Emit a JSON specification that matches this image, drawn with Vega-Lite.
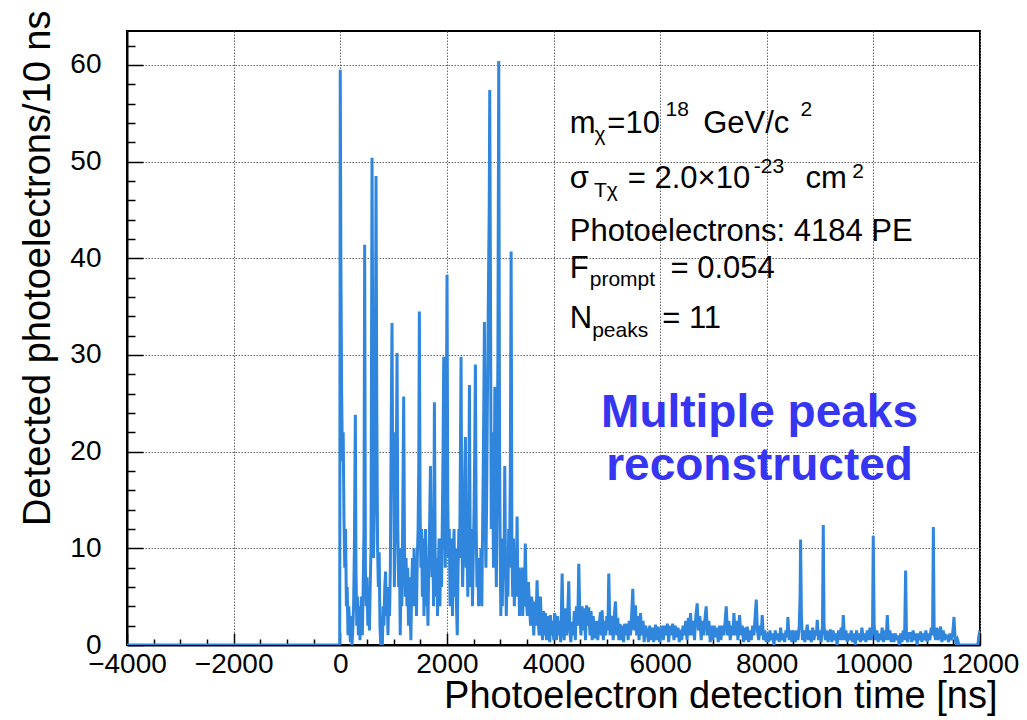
{
  "$schema": "https://vega.github.io/schema/vega-lite/v6.json",
  "width": 853,
  "height": 614,
  "autosize": {"type": "none"},
  "padding": {"left": 127, "top": 31, "right": 47, "bottom": 75},
  "background": "white",
  "config": {
    "view": {"stroke": "#000", "strokeWidth": 2},
    "font": "Liberation Sans",
    "axis": {"labelOverlap": false}
  },
  "resolve": {"axis": {"x": "independent", "y": "independent"}},
  "datasets": {
    "h": [
      {"t":-4000,"v":0},{"t":-10,"v":0},{"t":0,"v":59.5},{"t":12,"v":40},{"t":25,"v":27},{"t":40,"v":19},{"t":55,"v":22},{"t":70,"v":13},{"t":85,"v":8},{"t":100,"v":12},{"t":115,"v":4},{"t":130,"v":6},{"t":145,"v":1},{"t":160,"v":4},{"t":175,"v":2},{"t":190,"v":0.3},{"t":205,"v":3},{"t":220,"v":0},{"t":235,"v":1.5},{"t":250,"v":4},{"t":265,"v":10},{"t":283,"v":23.8},{"t":295,"v":8},{"t":310,"v":2},{"t":325,"v":5},{"t":340,"v":1},{"t":355,"v":4},{"t":370,"v":0.5},{"t":385,"v":3},{"t":400,"v":5},{"t":415,"v":1},{"t":430,"v":6},{"t":445,"v":12},{"t":458,"v":41.4},{"t":472,"v":8},{"t":487,"v":4},{"t":502,"v":7},{"t":517,"v":2},{"t":532,"v":5},{"t":547,"v":1.5},{"t":562,"v":6},{"t":577,"v":10},{"t":596,"v":50.4},{"t":610,"v":30},{"t":625,"v":9},{"t":640,"v":14},{"t":655,"v":20},{"t":671,"v":48.5},{"t":685,"v":25},{"t":700,"v":10},{"t":715,"v":6},{"t":730,"v":9.6},{"t":745,"v":2},{"t":760,"v":0},{"t":775,"v":3},{"t":790,"v":0},{"t":805,"v":4},{"t":820,"v":2},{"t":835,"v":6},{"t":850,"v":7.6},{"t":865,"v":3},{"t":880,"v":6},{"t":895,"v":1},{"t":910,"v":5},{"t":925,"v":3},{"t":940,"v":8},{"t":955,"v":22},{"t":971,"v":33.3},{"t":985,"v":16},{"t":1000,"v":22},{"t":1015,"v":6},{"t":1030,"v":12},{"t":1045,"v":15},{"t":1058,"v":24},{"t":1065,"v":30.2},{"t":1080,"v":12},{"t":1095,"v":6},{"t":1110,"v":10},{"t":1125,"v":1},{"t":1140,"v":7},{"t":1155,"v":4},{"t":1170,"v":12},{"t":1190,"v":25.7},{"t":1205,"v":10},{"t":1220,"v":5},{"t":1235,"v":9},{"t":1250,"v":4},{"t":1265,"v":8},{"t":1280,"v":2},{"t":1295,"v":7},{"t":1310,"v":4},{"t":1325,"v":0.5},{"t":1340,"v":6},{"t":1355,"v":9},{"t":1370,"v":4},{"t":1385,"v":10},{"t":1400,"v":5},{"t":1415,"v":8},{"t":1430,"v":3},{"t":1445,"v":9},{"t":1460,"v":12},{"t":1472,"v":18},{"t":1484,"v":34.5},{"t":1498,"v":14},{"t":1512,"v":8},{"t":1526,"v":12},{"t":1540,"v":5},{"t":1555,"v":11},{"t":1570,"v":3},{"t":1585,"v":9},{"t":1600,"v":12},{"t":1615,"v":4},{"t":1630,"v":7},{"t":1645,"v":2},{"t":1660,"v":8},{"t":1675,"v":12},{"t":1692,"v":18.5},{"t":1705,"v":12},{"t":1720,"v":7},{"t":1735,"v":12},{"t":1750,"v":4},{"t":1766,"v":25.1},{"t":1780,"v":10},{"t":1795,"v":5},{"t":1810,"v":9},{"t":1825,"v":3},{"t":1840,"v":8},{"t":1855,"v":11},{"t":1870,"v":4},{"t":1885,"v":10},{"t":1900,"v":6},{"t":1915,"v":13},{"t":1928,"v":20},{"t":1941,"v":29.8},{"t":1955,"v":15},{"t":1970,"v":8},{"t":1985,"v":18},{"t":2003,"v":38.3},{"t":2017,"v":15},{"t":2030,"v":9},{"t":2045,"v":12},{"t":2060,"v":4},{"t":2075,"v":8},{"t":2090,"v":11},{"t":2105,"v":3},{"t":2120,"v":9},{"t":2135,"v":12},{"t":2150,"v":5},{"t":2165,"v":10},{"t":2180,"v":4},{"t":2195,"v":1},{"t":2210,"v":8},{"t":2225,"v":12},{"t":2240,"v":9},{"t":2254,"v":20},{"t":2266,"v":29.8},{"t":2280,"v":12},{"t":2295,"v":6},{"t":2310,"v":10},{"t":2325,"v":14},{"t":2338,"v":19},{"t":2348,"v":21.5},{"t":2362,"v":8},{"t":2377,"v":12},{"t":2392,"v":5},{"t":2407,"v":10},{"t":2423,"v":26.9},{"t":2437,"v":10},{"t":2452,"v":6},{"t":2467,"v":12},{"t":2480,"v":4},{"t":2495,"v":9},{"t":2510,"v":14},{"t":2522,"v":20},{"t":2535,"v":29},{"t":2550,"v":12},{"t":2565,"v":6},{"t":2580,"v":9},{"t":2595,"v":4},{"t":2610,"v":7},{"t":2625,"v":5},{"t":2640,"v":10},{"t":2655,"v":4},{"t":2670,"v":12},{"t":2685,"v":20},{"t":2704,"v":33.4},{"t":2718,"v":14},{"t":2732,"v":8},{"t":2746,"v":15},{"t":2760,"v":25},{"t":2780,"v":37},{"t":2794,"v":45},{"t":2804,"v":57.4},{"t":2818,"v":37},{"t":2832,"v":12},{"t":2846,"v":22},{"t":2860,"v":18},{"t":2874,"v":8},{"t":2888,"v":14},{"t":2900,"v":26.7},{"t":2914,"v":12},{"t":2928,"v":6},{"t":2942,"v":15},{"t":2957,"v":30},{"t":2973,"v":60.4},{"t":2987,"v":22},{"t":3000,"v":10},{"t":3012,"v":3},{"t":3025,"v":9},{"t":3040,"v":4},{"t":3055,"v":11},{"t":3070,"v":7},{"t":3086,"v":18.5},{"t":3100,"v":8},{"t":3115,"v":3},{"t":3130,"v":9},{"t":3145,"v":5},{"t":3160,"v":12},{"t":3175,"v":8},{"t":3190,"v":18},{"t":3205,"v":40.7},{"t":3220,"v":10},{"t":3235,"v":5},{"t":3250,"v":11},{"t":3265,"v":4},{"t":3280,"v":8},{"t":3295,"v":5},{"t":3308,"v":9},{"t":3317,"v":13.3},{"t":3332,"v":5},{"t":3347,"v":8},{"t":3362,"v":3},{"t":3377,"v":7},{"t":3392,"v":4},{"t":3407,"v":8},{"t":3422,"v":3},{"t":3437,"v":6},{"t":3452,"v":4},{"t":3471,"v":10.5},{"t":3490,"v":5},
      {"t":3510,"v":3},{"t":3530,"v":6.5},{"t":3550,"v":4},{"t":3570,"v":2},{"t":3590,"v":5},{"t":3610,"v":3.5},{"t":3630,"v":1},{"t":3650,"v":4.5},{"t":3670,"v":2},{"t":3692,"v":6.7},{"t":3710,"v":3},{"t":3730,"v":1},{"t":3755,"v":5},{"t":3775,"v":2},{"t":3795,"v":0.5},{"t":3815,"v":3.5},{"t":3835,"v":1},{"t":3849,"v":3.3},{"t":3870,"v":0.5},{"t":3890,"v":3},{"t":3910,"v":1.5},{"t":3930,"v":0.3},{"t":3942,"v":3.1},{"t":3965,"v":1},{"t":3985,"v":2.5},{"t":4005,"v":0.5},{"t":4020,"v":3.3},{"t":4036,"v":2.8},{"t":4055,"v":0.5},{"t":4075,"v":3},{"t":4095,"v":1},{"t":4115,"v":2.5},{"t":4135,"v":0.3},{"t":4150,"v":4},{"t":4162,"v":7.4},{"t":4180,"v":2},{"t":4200,"v":0.5},{"t":4224,"v":3.8},{"t":4245,"v":1},{"t":4265,"v":3},{"t":4286,"v":6.6},{"t":4305,"v":1.5},{"t":4325,"v":0.3},{"t":4349,"v":2.4},{"t":4370,"v":1},{"t":4390,"v":3.5},{"t":4410,"v":0.5},{"t":4430,"v":4},{"t":4455,"v":2},{"t":4474,"v":8.4},{"t":4495,"v":3},{"t":4515,"v":1},{"t":4537,"v":4},{"t":4560,"v":1.5},{"t":4580,"v":3.8},{"t":4600,"v":0.5},{"t":4620,"v":4.1},{"t":4645,"v":2},{"t":4662,"v":3.9},{"t":4685,"v":1},{"t":4705,"v":3.5},{"t":4725,"v":0.5},{"t":4745,"v":3},{"t":4765,"v":1},{"t":4787,"v":0.7},{"t":4810,"v":2.5},{"t":4830,"v":0.5},{"t":4855,"v":2},{"t":4881,"v":3.4},{"t":4900,"v":1},{"t":4912,"v":3.6},{"t":4935,"v":0.5},{"t":4960,"v":2.5},{"t":4980,"v":1},{"t":5000,"v":3},{"t":5020,"v":1.5},{"t":5037,"v":7.4},{"t":5060,"v":1},{"t":5080,"v":3},{"t":5100,"v":2.4},{"t":5120,"v":0.5},{"t":5140,"v":3},{"t":5162,"v":4.5},{"t":5185,"v":1},{"t":5205,"v":2.8},{"t":5225,"v":0.5},{"t":5250,"v":2.2},{"t":5270,"v":0.5},{"t":5290,"v":2},{"t":5315,"v":0.3},{"t":5335,"v":2.2},{"t":5360,"v":1},{"t":5381,"v":2.2},{"t":5400,"v":0.5},{"t":5420,"v":2.5},{"t":5445,"v":1},{"t":5465,"v":3},{"t":5487,"v":5.8},{"t":5510,"v":1.5},{"t":5538,"v":4.1},{"t":5560,"v":1},{"t":5580,"v":3},{"t":5605,"v":0.5},{"t":5632,"v":3.3},{"t":5655,"v":1},{"t":5680,"v":2.5},{"t":5700,"v":0.3},{"t":5725,"v":2},{"t":5757,"v":1.4},{"t":5780,"v":0.3},{"t":5805,"v":2},{"t":5830,"v":0.5},{"t":5855,"v":1.8},{"t":5880,"v":0.3},{"t":5913,"v":2.1},{"t":5940,"v":0.5},{"t":5965,"v":1.9},{"t":5990,"v":0.3},{"t":6007,"v":0.9},{"t":6035,"v":2},{"t":6060,"v":0.5},{"t":6085,"v":2},{"t":6110,"v":1},{"t":6135,"v":2.2},{"t":6160,"v":0.3},{"t":6185,"v":2},{"t":6210,"v":1},{"t":6235,"v":2.2},{"t":6260,"v":0.5},{"t":6285,"v":2},{"t":6310,"v":0.8},{"t":6335,"v":1.8},{"t":6360,"v":0.3},{"t":6382,"v":1.6},{"t":6405,"v":0.5},{"t":6430,"v":2},{"t":6455,"v":1},{"t":6480,"v":2.5},{"t":6505,"v":0.5},{"t":6530,"v":2.8},{"t":6550,"v":1},{"t":6570,"v":3.3},{"t":6595,"v":1},{"t":6620,"v":2.5},{"t":6645,"v":0.5},{"t":6670,"v":3},{"t":6695,"v":4.3},{"t":6720,"v":1.5},{"t":6745,"v":3},{"t":6770,"v":0.5},{"t":6795,"v":2.5},{"t":6820,"v":1},{"t":6845,"v":3},{"t":6864,"v":4},{"t":6890,"v":1},{"t":6915,"v":2.5},{"t":6940,"v":0.3},{"t":6965,"v":2},{"t":6990,"v":0.5},{"t":7015,"v":2},{"t":7040,"v":0.8},{"t":7065,"v":1.8},{"t":7090,"v":0.3},{"t":7115,"v":2},{"t":7140,"v":0.5},{"t":7165,"v":2},{"t":7196,"v":1},{"t":7220,"v":2.5},{"t":7240,"v":4},{"t":7265,"v":1},{"t":7290,"v":2.5},{"t":7315,"v":0.5},{"t":7340,"v":2},{"t":7365,"v":1},{"t":7384,"v":3.3},{"t":7410,"v":1},{"t":7435,"v":2.5},{"t":7460,"v":0.5},{"t":7490,"v":3.1},{"t":7515,"v":1},{"t":7540,"v":2},{"t":7565,"v":0.3},{"t":7590,"v":1.8},{"t":7615,"v":0.5},{"t":7634,"v":1.9},{"t":7660,"v":0.3},{"t":7685,"v":1.5},{"t":7710,"v":0.5},{"t":7735,"v":2},{"t":7760,"v":1},{"t":7780,"v":2.8},{"t":7803,"v":4.7},{"t":7825,"v":1.5},{"t":7850,"v":0.5},{"t":7875,"v":2},{"t":7895,"v":1},{"t":7915,"v":3.1},{"t":7940,"v":0.5},{"t":7965,"v":1.5},{"t":7990,"v":0.3},{"t":8009,"v":1.2},{"t":8035,"v":0.3},{"t":8060,"v":1.5},{"t":8085,"v":0.5},{"t":8110,"v":1.2},{"t":8135,"v":0},{"t":8160,"v":1.5},{"t":8185,"v":0.5},{"t":8210,"v":1.2},{"t":8235,"v":0.3},{"t":8260,"v":1.8},{"t":8285,"v":0.5},{"t":8310,"v":1.2},{"t":8335,"v":0.3},{"t":8360,"v":1.5},{"t":8380,"v":0.8},{"t":8397,"v":2.9},{"t":8420,"v":0.5},{"t":8445,"v":1.5},{"t":8470,"v":0.3},{"t":8490,"v":1.5},{"t":8510,"v":1.2},{"t":8535,"v":0.3},{"t":8560,"v":1.5},{"t":8585,"v":0.5},{"t":8610,"v":2},{"t":8625,"v":5},{"t":8635,"v":10.9},{"t":8650,"v":3},{"t":8670,"v":0.5},{"t":8695,"v":1.5},{"t":8715,"v":0.3},{"t":8740,"v":1.2},{"t":8760,"v":2.1},{"t":8785,"v":0.5},{"t":8810,"v":1.5},{"t":8835,"v":0.3},{"t":8860,"v":1.8},{"t":8885,"v":0.5},{"t":8910,"v":1.5},{"t":8930,"v":1},{"t":8948,"v":2.6},{"t":8970,"v":0.5},{"t":8995,"v":1.5},{"t":9020,"v":0.3},{"t":9045,"v":2},{"t":9060,"v":12.4},{"t":9075,"v":2},{"t":9100,"v":0.5},{"t":9125,"v":1.5},{"t":9150,"v":0.3},{"t":9175,"v":1.2},{"t":9198,"v":1.6},{"t":9220,"v":0.3},{"t":9245,"v":1.5},{"t":9270,"v":0.5},{"t":9295,"v":1.2},{"t":9320,"v":0},{"t":9345,"v":1.5},{"t":9370,"v":0.5},{"t":9395,"v":1.8},{"t":9415,"v":0.5},{"t":9436,"v":3.1},{"t":9460,"v":0.5},{"t":9485,"v":1.5},{"t":9510,"v":0.3},{"t":9535,"v":1.2},{"t":9560,"v":0.5},{"t":9585,"v":1.5},{"t":9610,"v":0.3},{"t":9635,"v":1.2},{"t":9660,"v":0},{"t":9685,"v":1.5},{"t":9710,"v":0.5},{"t":9735,"v":1.2},{"t":9760,"v":0.3},{"t":9785,"v":1.8},{"t":9810,"v":0.5},{"t":9835,"v":1.2},{"t":9860,"v":0.3},{"t":9885,"v":1.5},{"t":9910,"v":0.5},{"t":9935,"v":1.8},{"t":9960,"v":0.5},{"t":9985,"v":2},{"t":9998,"v":11.3},{"t":10015,"v":2},{"t":10040,"v":0.5},{"t":10065,"v":1.5},{"t":10090,"v":0.3},{"t":10115,"v":1.2},{"t":10140,"v":0.5},{"t":10165,"v":1.8},{"t":10190,"v":0.3},{"t":10215,"v":1.5},{"t":10240,"v":0.5},{"t":10261,"v":3.1},{"t":10285,"v":0.5},{"t":10310,"v":1.5},{"t":10335,"v":0.3},{"t":10360,"v":1.2},{"t":10386,"v":0.3},{"t":10410,"v":1.2},{"t":10435,"v":0.5},{"t":10460,"v":1},{"t":10485,"v":0},{"t":10511,"v":1.2},{"t":10535,"v":0.3},{"t":10560,"v":1.5},{"t":10585,"v":0.5},{"t":10605,"v":7.7},{"t":10620,"v":1},{"t":10645,"v":0.3},{"t":10670,"v":1.2},{"t":10699,"v":1.2},{"t":10720,"v":0.3},{"t":10745,"v":1.5},{"t":10770,"v":0.5},{"t":10795,"v":1.2},{"t":10820,"v":0},{"t":10845,"v":1.2},{"t":10865,"v":0.5},{"t":10887,"v":1.4},{"t":10910,"v":0.3},{"t":10935,"v":1.2},{"t":10960,"v":0.5},{"t":10985,"v":1.5},{"t":11010,"v":0.3},{"t":11035,"v":1.2},{"t":11060,"v":0.5},{"t":11085,"v":1.8},{"t":11110,"v":1},{"t":11125,"v":12.2},{"t":11140,"v":1.5},{"t":11165,"v":0.5},{"t":11190,"v":1.8},{"t":11215,"v":0.5},{"t":11240,"v":1.2},{"t":11262,"v":1.9},{"t":11285,"v":0.3},{"t":11310,"v":1.5},{"t":11335,"v":0.5},{"t":11360,"v":1},{"t":11387,"v":0.9},{"t":11410,"v":0.3},{"t":11435,"v":1.2},{"t":11460,"v":0.5},{"t":11485,"v":1},{"t":11500,"v":2},{"t":11512,"v":2.9},{"t":11530,"v":1},{"t":11555,"v":0},{"t":11580,"v":0.5},{"t":11606,"v":0},{"t":11887,"v":0},{"t":11960,"v":0},{"t":11981,"v":1},{"t":12000,"v":1.5}
    ],
    "txt": [
      {"t":4305,"v":52.9,"s":"m"},
      {"t":5010,"v":52.9,"s":"=10"},
      {"t":6808,"v":52.9,"s":"GeV/c"},
      {"t":4305,"v":47.31,"s":"σ"},
      {"t":5393,"v":47.31,"s":"= 2.0×10"},
      {"t":8728,"v":47.31,"s":"cm"},
      {"t":4305,"v":41.82,"s":"Photoelectrons: 4184 PE"},
      {"t":4305,"v":37.99,"s":"F"},
      {"t":6194,"v":37.99,"s":"= 0.054"},
      {"t":4305,"v":32.82,"s":"N"},
      {"t":6039,"v":32.82,"s":"= 11"}
    ],
    "sub": [
      {"t":4770,"v":52.17,"s":"χ"},
      {"t":6100,"v":54.76,"s":"18"},
      {"t":8634,"v":54.76,"s":"2"},
      {"t":4760,"v":46.38,"s":"Tχ"},
      {"t":7758,"v":48.86,"s":"-23"},
      {"t":9604,"v":48.34,"s":"2"},
      {"t":4680,"v":37.16,"s":"prompt"},
      {"t":4725,"v":31.88,"s":"peaks"}
    ],
    "blue": [
      {"t":7865,"v":22.57,"s":"Multiple peaks"},
      {"t":7865,"v":17.08,"s":"reconstructed"}
    ]
  },
  "layer": [
    {
      "data": {"name": "h"},
      "mark": {"type": "line", "color": "#2f86dc", "strokeWidth": 3, "clip": true},
      "encoding": {
        "x": {
          "field": "t", "type": "quantitative",
          "scale": {"domain": [-4000, 12000], "nice": false, "zero": false},
          "axis": {
            "orient": "bottom",
            "title": "Photoelectron detection time [ns]",
            "values": [-4000,-3500,-3000,-2500,-2000,-1500,-1000,-500,0,500,1000,1500,2000,2500,3000,3500,4000,4500,5000,5500,6000,6500,7000,7500,8000,8500,9000,9500,10000,10500,11000,11500,12000],
            "format": "d",
            "labelExpr": "datum.value % 2000 == 0 ? datum.label : ''",
            "labelFontSize": 28,
            "labelColor": "#000",
            "labelFont": "Liberation Sans",
            "labelPadding": 17,
            "labelFlush": false,
            "labelOverlap": false,
            "tickSize": {"condition": {"test": "datum.value % 2000 == 0", "value": -12}, "value": -6},
            "tickColor": "#000",
            "tickWidth": 1.5,
            "grid": true,
            "gridOpacity": {"condition": {"test": "datum.value % 2000 == 0", "value": 1}, "value": 0},
            "gridColor": "#666",
            "gridDash": [1.5, 1.5],
            "gridWidth": 1,
            "domainColor": "#000",
            "domainWidth": 2,
            "titleFont": "Liberation Sans",
            "titleFontSize": 38,
            "titleFontWeight": "normal",
            "titleColor": "#000",
            "titleAnchor": "end",
            "titleAlign": "right",
            "titleBaseline": "alphabetic",
            "titleX": 870,
            "titleY": 62
          }
        },
        "y": {
          "field": "v", "type": "quantitative",
          "scale": {"domain": [0, 63.5], "nice": false, "zero": true},
          "axis": {
            "orient": "left",
            "title": "Detected photoelectrons/10 ns",
            "values": [0,2,4,6,8,10,12,14,16,18,20,22,24,26,28,30,32,34,36,38,40,42,44,46,48,50,52,54,56,58,60,62],
            "format": "d",
            "labelExpr": "datum.value % 10 == 0 ? datum.label : ''",
            "labelFontSize": {"condition": {"test": "datum.value % 10 == 0", "value": 28}, "value": 1},
            "labelColor": "#000",
            "labelFont": "Liberation Sans",
            "labelPadding": 42,
            "labelFlush": false,
            "labelOverlap": false,
            "tickSize": {"condition": {"test": "datum.value % 10 == 0", "value": -16}, "value": -8},
            "tickColor": "#000",
            "tickWidth": 1.5,
            "grid": true,
            "gridOpacity": {"condition": {"test": "datum.value % 10 == 0", "value": 1}, "value": 0},
            "gridColor": "#666",
            "gridDash": [1.5, 1.5],
            "gridWidth": 1,
            "domainColor": "#000",
            "domainWidth": 2,
            "titleFont": "Liberation Sans",
            "titleFontSize": 38,
            "titleFontWeight": "normal",
            "titleColor": "#000",
            "titleAngle": 270,
            "titleAnchor": "end",
            "titleAlign": "right",
            "titleBaseline": "alphabetic",
            "titleX": -78,
            "titleY": -21
          }
        }
      }
    },
    {
      "data": {"name": "txt"},
      "mark": {"type": "text", "align": "left", "baseline": "alphabetic", "fontSize": 31, "font": "Liberation Sans", "color": "#000"},
      "encoding": {
        "x": {"field": "t", "type": "quantitative", "axis": null},
        "y": {"field": "v", "type": "quantitative", "axis": null},
        "text": {"field": "s"}
      }
    },
    {
      "data": {"name": "sub"},
      "mark": {"type": "text", "align": "left", "baseline": "alphabetic", "fontSize": 21, "font": "Liberation Sans", "color": "#000"},
      "encoding": {
        "x": {"field": "t", "type": "quantitative", "axis": null},
        "y": {"field": "v", "type": "quantitative", "axis": null},
        "text": {"field": "s"}
      }
    },
    {
      "data": {"name": "blue"},
      "mark": {"type": "text", "align": "center", "baseline": "alphabetic", "fontSize": 46, "fontWeight": "bold", "font": "Liberation Sans", "color": "#3636f2"},
      "encoding": {
        "x": {"field": "t", "type": "quantitative", "axis": null},
        "y": {"field": "v", "type": "quantitative", "axis": null},
        "text": {"field": "s"}
      }
    }
  ]
}
